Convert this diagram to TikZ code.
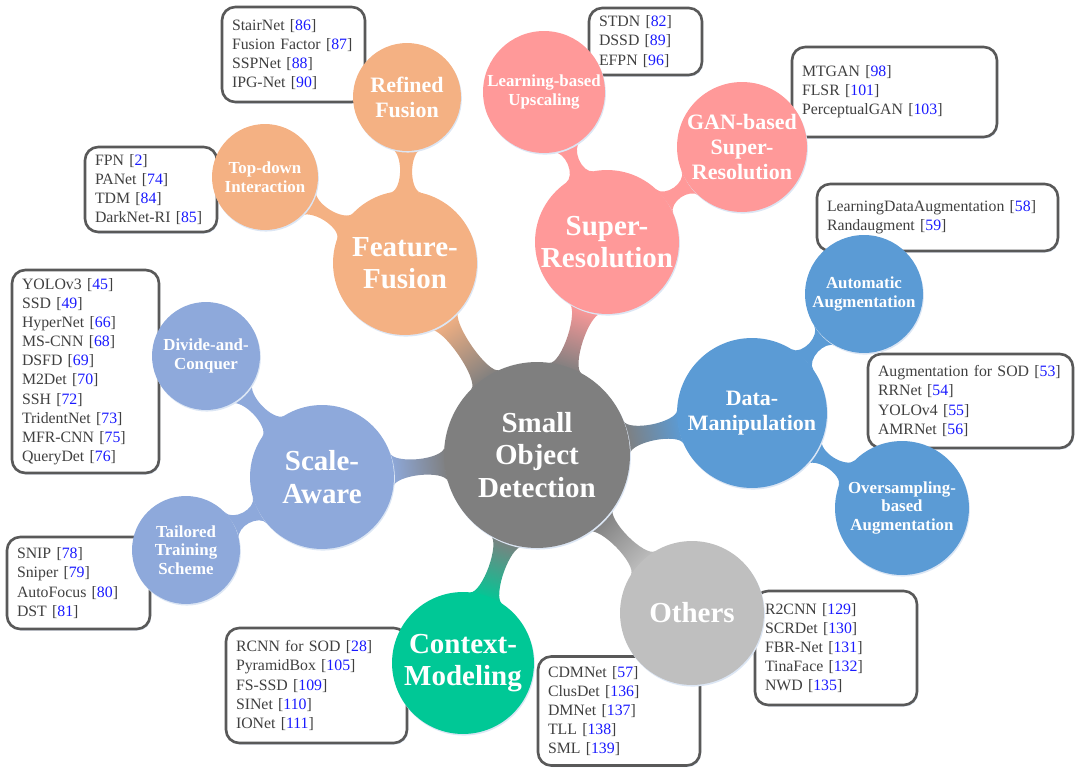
\documentclass[tikz,border=0pt]{standalone}
\usepackage{fontspec}
\setmainfont{Liberation Serif}
\usetikzlibrary{calc,shadows}
\pgfdeclarelayer{bg}
\pgfsetlayers{bg,main}

\definecolor{sodgray}{HTML}{7F7F7F}
\definecolor{fuseorange}{HTML}{F4B183}
\definecolor{srpink}{HTML}{FF9999}
\definecolor{dmblue}{HTML}{5B9BD5}
\definecolor{sablue}{HTML}{8EA9DB}
\definecolor{cmgreen}{HTML}{00C896}
\definecolor{othgray}{HTML}{BFBFBF}
\definecolor{boxline}{HTML}{595959}
\definecolor{reftext}{HTML}{404040}
\definecolor{refblue}{HTML}{1A1AFF}
\definecolor{glow}{HTML}{DCE6F4}

\newcommand\rf[1]{[\textcolor{refblue}{#1}]}

% neck between two bubbles: child, parent, r child, r parent (px), colours
\def\nkh{7}\def\nkf{9}
\newcommand\neck[6]{%
  \pgfmathanglebetweenpoints{\pgfpointanchor{#1}{center}}{\pgfpointanchor{#2}{center}}%
  \let\nka\pgfmathresult
  \pgfpointdiff{\pgfpointanchor{#1}{center}}{\pgfpointanchor{#2}{center}}%
  \pgfgetlastxy{\nkx}{\nky}%
  \pgfmathsetmacro\nkg{veclen(\nkx,\nky)/0.569055-#3-#4}%
  \pgfmathsetmacro\nkm{#3+\nkg/2}%
  \pgfmathsetmacro\nkp{asin(min(1,(\nkh+\nkf)/#3))}%
  \pgfmathsetmacro\nkq{asin(min(1,(\nkh+\nkf)/#4))}%
  \pgfmathsetmacro\nks{\nka+90}%
  \shade[top color=#5, bottom color=#6, shading angle=\nks]
    ($(#1)+({\nka+\nkp}:#3)$)
      .. controls +({\nka+\nkp-90}:6) and +({\nka+180}:{\nkg/4}) ..
    ($(#1)+(\nka:\nkm)+({\nka+90}:\nkh)$)
      .. controls +(\nka:{\nkg/4}) and +({\nka+270-\nkq}:6) ..
    ($(#2)+({\nka+180-\nkq}:#4)$)
    -- ($(#2)+({\nka+180+\nkq}:#4)$)
      .. controls +({\nka+90+\nkq}:6) and +(\nka:{\nkg/4}) ..
    ($(#1)+(\nka:\nkm)+({\nka-90}:\nkh)$)
      .. controls +({\nka+180}:{\nkg/4}) and +({\nka+90-\nkp}:6) ..
    ($(#1)+({\nka-\nkp}:#3)$) -- cycle;
}

\tikzset{
  bub/.style 2 args={circle, fill=#1, minimum size=#2*0.04cm, inner sep=-3pt,
    text=white, align=center,
    drop shadow={shadow xshift=0.5pt, shadow yshift=-0.9pt, fill=glow, opacity=1}},
  bigtxt/.style={font=\bfseries\fontsize{16.5}{18.5}\selectfont},
  midtxt/.style={font=\bfseries\fontsize{12.5}{14.3}\selectfont},
  smalltxt/.style={font=\bfseries\fontsize{9.6}{10.6}\selectfont},
  refbox/.style 2 args={draw=boxline, line width=1.5pt, rounded corners=7.5pt,
    fill=white, text=reftext, align=left, inner xsep=0.2cm, inner ysep=0pt,
    text width=#1, minimum height=#2, font=\fontsize{9}{10.9}\selectfont,
    drop shadow={shadow xshift=0.6pt, shadow yshift=-0.9pt, fill=glow, opacity=1}}
}

\begin{document}
\begin{tikzpicture}[x=0.02cm, y=0.02cm]
\useasboundingbox (0,0) rectangle (1080,-777);

% reference boxes
\node[refbox={2.46cm}{1.9cm}] (stairbox) at (293.5,-54.5)
  {StairNet \rf{86}\\Fusion Factor \rf{87}\\SSPNet \rf{88}\\IPG-Net \rf{90}};
\node[refbox={2.24cm}{1.7cm}] (fpnbox) at (151,-189.5)
  {FPN \rf{2}\\PANet \rf{74}\\TDM \rf{84}\\DarkNet-RI \rf{85}};
\node[refbox={2.54cm}{4.06cm}] (yolobox) at (85.5,-371.5)
  {YOLOv3 \rf{45}\\SSD \rf{49}\\HyperNet \rf{66}\\MS-CNN \rf{68}\\DSFD \rf{69}\\
   M2Det \rf{70}\\SSH \rf{72}\\TridentNet \rf{73}\\MFR-CNN \rf{75}\\QueryDet \rf{76}};
\node[refbox={2.46cm}{1.84cm}] (snipbox) at (78.5,-583)
  {SNIP \rf{78}\\Sniper \rf{79}\\AutoFocus \rf{80}\\DST \rf{81}};
\node[refbox={3.22cm}{2.3cm}] (rcnnbox) at (316.5,-685.5)
  {RCNN for SOD \rf{28}\\PyramidBox \rf{105}\\FS-SSD \rf{109}\\SINet \rf{110}\\IONet \rf{111}};
\node[refbox={2.84cm}{2.18cm}] (cdmbox) at (619,-711)
  {CDMNet \rf{57}\\ClusDet \rf{136}\\DMNet \rf{137}\\TLL \rf{138}\\SML \rf{139}};
\node[refbox={2.84cm}{2.28cm}] (r2cnnbox) at (836,-648)
  {R2CNN \rf{129}\\SCRDet \rf{130}\\FBR-Net \rf{131}\\TinaFace \rf{132}\\NWD \rf{135}};
\node[refbox={3.7cm}{1.88cm}] (augbox) at (970.5,-401)
  {Augmentation for SOD \rf{53}\\RRNet \rf{54}\\YOLOv4 \rf{55}\\AMRNet \rf{56}};
\node[refbox={4.42cm}{1.34cm}] (ldabox) at (937.5,-217.5)
  {LearningDataAugmentation \rf{58}\\Randaugment \rf{59}};
\node[refbox={3.7cm}{1.8cm}] (mtganbox) at (894.5,-92)
  {MTGAN \rf{98}\\FLSR \rf{101}\\PerceptualGAN \rf{103}};
\node[refbox={1.86cm}{1.34cm}] (stdnbox) at (645.5,-41.5)
  {STDN \rf{82}\\DSSD \rf{89}\\EFPN \rf{96}};

% bubbles
\node[bub={sodgray}{93}, bigtxt] (sod) at (537,-455) {Small\\Object\\Detection};
\node[bub={fuseorange}{72}, bigtxt] (ff) at (405,-263) {Feature-\\Fusion};
\node[bub={fuseorange}{54}, midtxt] (rf) at (407,-97) {Refined\\Fusion};
\node[bub={fuseorange}{53}, smalltxt] (td) at (265,-177) {Top-down\\Interaction};
\node[bub={srpink}{72}, bigtxt] (sr) at (607,-242) {Super-\\Resolution};
\node[bub={srpink}{61}, smalltxt] (lu) at (544,-92) {Learning-based\\Upscaling};
\node[bub={srpink}{65}, midtxt] (gan) at (742,-147) {GAN-based\\Super-\\Resolution};
\node[bub={dmblue}{75}, midtxt] (dm) at (752,-413) {Data-\\Manipulation};
\node[bub={dmblue}{59}, smalltxt] (aa) at (864,-294) {Automatic\\Augmentation};
\node[bub={dmblue}{67}, smalltxt] (oa) at (902,-508) {Oversampling-\\based\\Augmentation};
\node[bub={othgray}{72}, bigtxt] (oth) at (692,-613) {Others};
\node[bub={cmgreen}{71}, bigtxt] (cm) at (463,-663) {Context-\\Modeling};
\node[bub={sablue}{72}, bigtxt] (sa) at (322,-477) {Scale-\\Aware};
\node[bub={sablue}{54}, smalltxt] (dc) at (206,-356) {Divide-and-\\Conquer};
\node[bub={sablue}{54}, smalltxt] (tt) at (186,-550) {Tailored\\Training\\Scheme};

\begin{pgfonlayer}{bg}
  \def\nkh{8}
  \neck{ff}{sod}{72}{93}{fuseorange}{sodgray}
  \neck{sr}{sod}{72}{93}{srpink}{sodgray}
  \neck{dm}{sod}{75}{93}{dmblue}{sodgray}
  \neck{oth}{sod}{72}{93}{othgray}{sodgray}
  \neck{cm}{sod}{71}{93}{cmgreen}{sodgray}
  \neck{sa}{sod}{72}{93}{sablue}{sodgray}
  \def\nkh{6}
  \neck{rf}{ff}{54}{72}{fuseorange}{fuseorange}
  \neck{td}{ff}{53}{72}{fuseorange}{fuseorange}
  \neck{lu}{sr}{61}{72}{srpink}{srpink}
  \neck{gan}{sr}{65}{72}{srpink}{srpink}
  \neck{aa}{dm}{59}{75}{dmblue}{dmblue}
  \neck{oa}{dm}{67}{75}{dmblue}{dmblue}
  \neck{dc}{sa}{54}{72}{sablue}{sablue}
  \neck{tt}{sa}{54}{72}{sablue}{sablue}
\end{pgfonlayer}
\end{tikzpicture}
\end{document}
